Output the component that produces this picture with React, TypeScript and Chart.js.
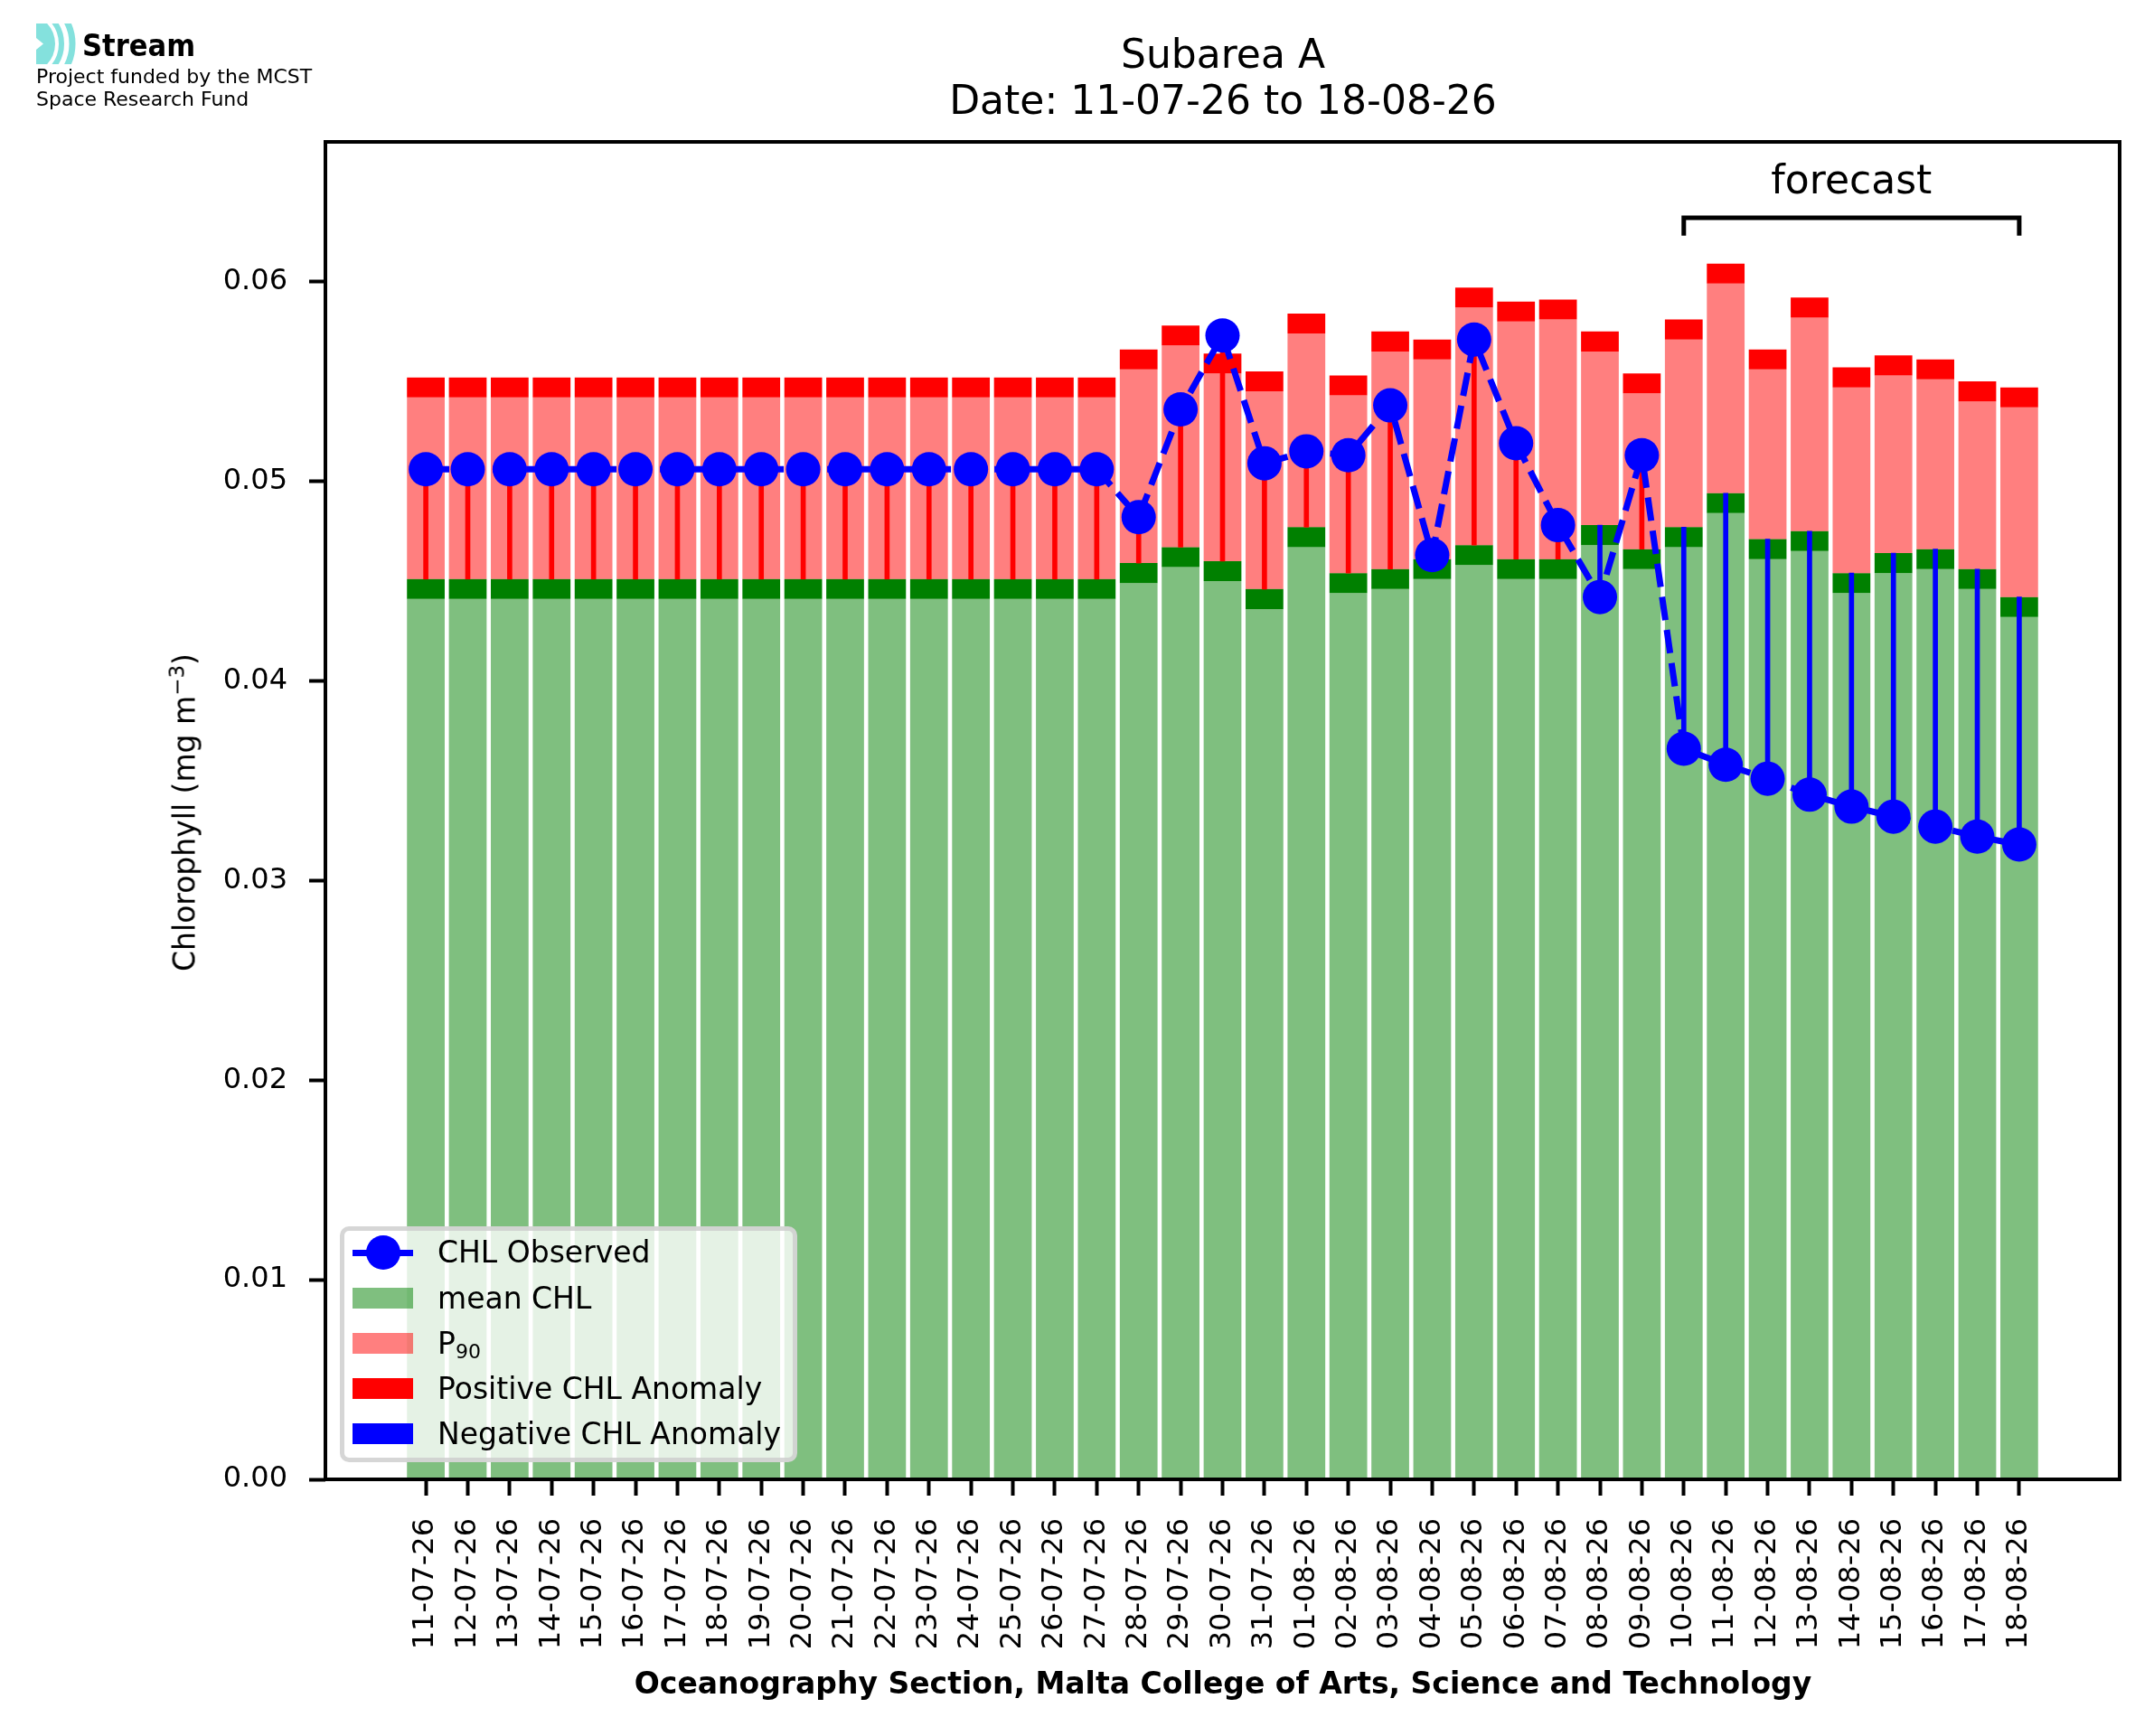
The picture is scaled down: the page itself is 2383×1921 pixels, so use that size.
import { useEffect, useRef } from "react"
import { Chart, registerables } from "chart.js"

Chart.register(...registerables)

const dates = [
  "11-07-26", "12-07-26", "13-07-26", "14-07-26", "15-07-26", "16-07-26", "17-07-26",
  "18-07-26", "19-07-26", "20-07-26", "21-07-26", "22-07-26", "23-07-26", "24-07-26",
  "25-07-26", "26-07-26", "27-07-26", "28-07-26", "29-07-26", "30-07-26", "31-07-26",
  "01-08-26", "02-08-26", "03-08-26", "04-08-26", "05-08-26", "06-08-26", "07-08-26",
  "08-08-26", "09-08-26", "10-08-26", "11-08-26", "12-08-26", "13-08-26", "14-08-26",
  "15-08-26", "16-08-26", "17-08-26", "18-08-26",
]

// mean CHL (top of the dark green band)
const meanChl = [
  0.0451, 0.0451, 0.0451, 0.0451, 0.0451, 0.0451, 0.0451, 0.0451, 0.0451,
  0.0451, 0.0451, 0.0451, 0.0451, 0.0451, 0.0451, 0.0451, 0.0451,
  0.0459, 0.0467, 0.0460, 0.0446, 0.0477, 0.0454, 0.0456, 0.0461, 0.0468,
  0.0461, 0.0461, 0.0478, 0.0466,
  0.0477, 0.0494, 0.0471, 0.0475, 0.0454, 0.0464, 0.0466, 0.0456, 0.0442,
]

// 90th percentile (top of the light red bar)
const p90Chl = [
  0.0542, 0.0542, 0.0542, 0.0542, 0.0542, 0.0542, 0.0542, 0.0542, 0.0542,
  0.0542, 0.0542, 0.0542, 0.0542, 0.0542, 0.0542, 0.0542, 0.0542,
  0.0556, 0.0568, 0.0554, 0.0545, 0.0574, 0.0543, 0.0565, 0.0561, 0.0587,
  0.0580, 0.0581, 0.0565, 0.0544,
  0.0571, 0.0599, 0.0556, 0.0582, 0.0547, 0.0553, 0.0551, 0.0540, 0.0537,
]

const observedChl = [
  0.0506, 0.0506, 0.0506, 0.0506, 0.0506, 0.0506, 0.0506, 0.0506, 0.0506,
  0.0506, 0.0506, 0.0506, 0.0506, 0.0506, 0.0506, 0.0506, 0.0506,
  0.0482, 0.0536, 0.0573, 0.0509, 0.0515, 0.0513, 0.0538, 0.0463, 0.0571,
  0.0519, 0.0478, 0.0442, 0.0513,
  0.0366, 0.0358, 0.0351, 0.0343, 0.0337, 0.0332, 0.0327, 0.0322, 0.0318,
]

const yTicks = [0, 0.01, 0.02, 0.03, 0.04, 0.05, 0.06]

const BAND = 0.001 // thickness of the dark bands
const FORECAST_FROM = 30
const FORECAST_TO = 38
const BRACKET_Y = 0.0632
const BRACKET_DROP = 0.0009
const FORECAST_LABEL_Y = 0.0644

const FONT = "DejaVu Sans"

const framePlugin = {
  id: "frame",
  afterDatasetsDraw(chart: any) {
    const { ctx, chartArea: a } = chart
    const x = chart.scales.x
    const y = chart.scales.y
    const x0 = x.getPixelForValue(FORECAST_FROM)
    const x1 = x.getPixelForValue(FORECAST_TO)
    const yb = y.getPixelForValue(BRACKET_Y)
    const yt = y.getPixelForValue(BRACKET_Y - BRACKET_DROP)
    ctx.save()
    ctx.strokeStyle = "#000"
    ctx.lineWidth = 5
    ctx.beginPath()
    ctx.moveTo(x0, yt)
    ctx.lineTo(x0, yb)
    ctx.lineTo(x1, yb)
    ctx.lineTo(x1, yt)
    ctx.stroke()
    ctx.fillStyle = "#000"
    ctx.font = `44px "${FONT}"`
    ctx.textAlign = "center"
    ctx.textBaseline = "alphabetic"
    ctx.fillText("forecast", (x0 + x1) / 2, y.getPixelForValue(FORECAST_LABEL_Y))
    ctx.lineWidth = 4
    ctx.strokeRect(a.left, a.top, a.right - a.left, a.bottom - a.top)
    ctx.restore()
  },
}

// text placed by its baseline (DejaVu metrics, line-height 1)
function Txt({ x, base, size, bold, center, children, style }: any) {
  return (
    <div
      style={{
        position: "absolute",
        left: x,
        top: base - 0.846 * size,
        fontSize: size,
        lineHeight: 1,
        fontWeight: bold ? "bold" : "normal",
        whiteSpace: "nowrap",
        transform: center ? "translateX(-50%)" : undefined,
        ...style,
      }}
    >
      {children}
    </div>
  )
}

function Legend() {
  const rowY = (k: number) => 1386 + 50.2 * k
  const patch = (k: number, color: string) => (
    <div style={{ position: "absolute", left: 390, top: rowY(k) - 11.5, width: 67, height: 23, background: color }} />
  )
  return (
    <>
      <div
        style={{
          position: "absolute", left: 376, top: 1357, width: 506, height: 261, boxSizing: "border-box",
          background: "rgba(255,255,255,0.8)", border: "5px solid rgba(204,204,204,0.8)", borderRadius: 10,
        }}
      />
      <div style={{ position: "absolute", left: 390, top: rowY(0) - 3.5, width: 67, height: 7, background: "#0000ff" }} />
      <div style={{ position: "absolute", left: 404.5, top: rowY(0) - 19, width: 38, height: 38, borderRadius: "50%", background: "#0000ff" }} />
      {patch(1, "rgba(0,128,0,0.5)")}
      {patch(2, "rgba(255,0,0,0.5)")}
      {patch(3, "#ff0000")}
      {patch(4, "#0000ff")}
      <Txt x={484} base={rowY(0) + 11.3} size={33}>CHL Observed</Txt>
      <Txt x={484} base={rowY(1) + 11.3} size={33}>mean CHL</Txt>
      <Txt x={484} base={rowY(2) + 11.3} size={33}>
        P<span style={{ fontSize: 22, verticalAlign: -5, lineHeight: 0 }}>90</span>
      </Txt>
      <Txt x={484} base={rowY(3) + 11.3} size={33}>Positive CHL Anomaly</Txt>
      <Txt x={484} base={rowY(4) + 11.3} size={33}>Negative CHL Anomaly</Txt>
    </>
  )
}

function Logo() {
  const c = "#84e1dd"
  return (
    <>
      <svg style={{ position: "absolute", left: 40, top: 26 }} width={44} height={45} viewBox="0 0 44 45">
        <defs>
          <clipPath id="logoClip">
            <rect x="0" y="0" width="44" height="45" />
          </clipPath>
        </defs>
        <g clipPath="url(#logoClip)" fill="none" stroke={c}>
          <circle cx="-12" cy="22.5" r="33" fill={c} stroke="none" />
          <circle cx="-12" cy="22.5" r="40" strokeWidth="6" />
          <circle cx="-12" cy="22.5" r="52" strokeWidth="7" />
        </g>
        <path d="M0 16 L8 22.5 L0 29 Z" fill="#fff" />
      </svg>
      <Txt x={91} base={62} size={34} bold style={{ fontFamily: '"DejaVu Sans Condensed", "DejaVu Sans"', fontStretch: "condensed" }}>
        Stream
      </Txt>
      <Txt x={40} base={93} size={22}>Project funded by the MCST</Txt>
      <Txt x={40} base={118} size={22}>Space Research Fund</Txt>
    </>
  )
}

export default function App() {
  const canvasRef = useRef<HTMLCanvasElement | null>(null)

  useEffect(() => {
    const canvas = canvasRef.current
    if (!canvas) return
    const idx = dates.map((_, i) => i)
    const tickFont = { family: FONT, size: 32 }

    const chart = new Chart(canvas, {
      type: "bar",
      data: {
        datasets: [
          {
            type: "line",
            label: "CHL Observed",
            data: idx.map((i) => ({ x: i, y: observedChl[i] })),
            borderColor: "#0000ff",
            borderWidth: 7,
            borderDash: [26, 11],
            pointRadius: 19,
            pointBackgroundColor: "#0000ff",
            pointBorderWidth: 0,
            tension: 0,
            fill: false,
            order: 0,
          },
          {
            label: "anomaly",
            data: idx.map((i) => ({ x: i, y: [meanChl[i], observedChl[i]] })),
            backgroundColor: idx.map((i) => (observedChl[i] >= meanChl[i] ? "#ff0000" : "#0000ff")),
            barThickness: 5,
            order: 1,
          },
          {
            label: "Positive CHL Anomaly",
            data: idx.map((i) => ({ x: i, y: [p90Chl[i], p90Chl[i] + BAND] })),
            backgroundColor: "#ff0000",
            order: 2,
          },
          {
            label: "P90",
            data: idx.map((i) => ({ x: i, y: [meanChl[i], p90Chl[i]] })),
            backgroundColor: "rgba(255,0,0,0.5)",
            order: 3,
          },
          {
            label: "mean band",
            data: idx.map((i) => ({ x: i, y: [meanChl[i] - BAND, meanChl[i]] })),
            backgroundColor: "#008000",
            order: 4,
          },
          {
            label: "mean CHL",
            data: idx.map((i) => ({ x: i, y: [0, meanChl[i] - BAND] })),
            backgroundColor: "rgba(0,128,0,0.5)",
            order: 5,
          },
        ] as any,
      },
      options: {
        responsive: false,
        animation: false,
        devicePixelRatio: 1,
        events: [],
        layout: { padding: { left: 0, top: 157, right: 38, bottom: 0 } },
        datasets: {
          bar: { grouped: false, barPercentage: 0.9, categoryPercentage: 1 },
        },
        plugins: {
          legend: { display: false },
          tooltip: { enabled: false },
          title: { display: false },
        },
        scales: {
          x: {
            type: "linear",
            offset: false,
            min: -2.395,
            max: 40.395,
            afterBuildTicks: (s: any) => {
              s.ticks = idx.map((v) => ({ value: v }))
            },
            afterFit: (s: any) => {
              s.height = 284
            },
            ticks: {
              autoSkip: false,
              minRotation: 90,
              maxRotation: 90,
              padding: 25,
              color: "#000",
              font: tickFont,
              callback: (v: any) => dates[v] ?? "",
            },
            grid: { offset: false, drawOnChartArea: false, tickLength: 18, tickWidth: 4, tickColor: "#000" },
            border: { display: false },
          },
          y: {
            type: "linear",
            min: 0,
            max: 0.067,
            afterBuildTicks: (s: any) => {
              s.ticks = yTicks.map((v) => ({ value: v }))
            },
            afterFit: (s: any) => {
              s.width = 360
            },
            ticks: {
              padding: 24,
              color: "#000",
              font: tickFont,
              callback: (v: any) => Number(v).toFixed(2),
            },
            grid: { drawOnChartArea: false, tickLength: 18, tickWidth: 4, tickColor: "#000" },
            border: { display: false },
          },
        },
      } as any,
      plugins: [framePlugin],
    })

    return () => {
      chart.destroy()
    }
  }, [])

  return (
    <div
      style={{
        position: "absolute", left: 0, top: 0, width: 2383, height: 1921,
        background: "#fff", overflow: "hidden", fontFamily: `"${FONT}"`, color: "#000",
      }}
    >
      <canvas
        ref={canvasRef}
        width={2383}
        height={1921}
        style={{ position: "absolute", left: 0, top: 0, width: 2383, height: 1921, display: "block" }}
      />
      <Logo />
      <Txt x={1353} base={75} size={44} center>Subarea A</Txt>
      <Txt x={1353} base={126} size={44} center>Date: 11-07-26 to 18-08-26</Txt>
      <Txt x={1353} base={1874} size={33} bold center>
        Oceanography Section, Malta College of Arts, Science and Technology
      </Txt>
      <div
        style={{
          position: "absolute", left: 204, top: 899, fontSize: 33, lineHeight: 1, whiteSpace: "nowrap",
          transform: "translate(-50%, -50%) rotate(-90deg)",
        }}
      >
        Chlorophyll (mg m<span style={{ fontSize: 23, verticalAlign: 12, lineHeight: 0 }}>−3</span>)
      </div>
      <Legend />
    </div>
  )
}
